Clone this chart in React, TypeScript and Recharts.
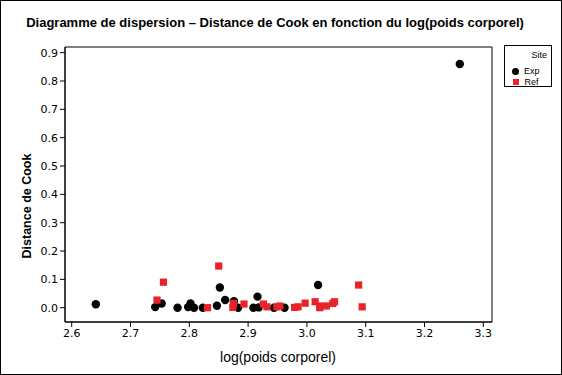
import React from 'react';
import { ScatterChart, Scatter, XAxis, YAxis, ReferenceArea } from 'recharts';

const chartTitle = 'Diagramme de dispersion \u2013 Distance de Cook en fonction du log(poids corporel)';
const xLabel = 'log(poids corporel)';
const yLabel = 'Distance de Cook';
const legendTitle = 'Site';
const seriesNames = ['Exp', 'Ref'];

const expLogWeight = [2.641, 2.742, 2.753, 2.780, 2.798, 2.802, 2.808, 2.823, 2.847, 2.852, 2.861, 2.876, 2.883, 2.909, 2.916, 2.918, 2.944, 2.962, 3.019, 3.260];
const expCook = [0.012, 0.002, 0.015, 0.000, 0.002, 0.015, 0.000, 0.000, 0.007, 0.071, 0.027, 0.023, 0.000, 0.000, 0.039, 0.001, 0.000, 0.000, 0.080, 0.860];

const refLogWeight = [2.745, 2.756, 2.831, 2.850, 2.874, 2.875, 2.893, 2.926, 2.932, 2.949, 2.954, 2.979, 2.985, 2.997, 3.014, 3.022, 3.022, 3.033, 3.044, 3.047, 3.088, 3.094];
const refCook = [0.027, 0.090, 0.000, 0.147, 0.001, 0.015, 0.013, 0.013, 0.003, 0.003, 0.006, 0.001, 0.003, 0.016, 0.021, 0.006, 0.000, 0.006, 0.015, 0.021, 0.080, 0.003];

const xTicks = [2.6, 2.7, 2.8, 2.9, 3.0, 3.1, 3.2, 3.3];
const yTicks = [0, 0.1, 0.2, 0.3, 0.4, 0.5, 0.6, 0.7, 0.8, 0.9];

const RED = '#e8232a';
const BLACK = '#000000';

const expData = expLogWeight.map((x, i) => ({ x, y: expCook[i] }));
const refData = refLogWeight.map((x, i) => ({ x, y: refCook[i] }));

const X_DOMAIN: [number, number] = [2.5886, 3.3148];
const Y_DOMAIN: [number, number] = [-0.0505, 0.92];

const CircleShape = (p: any) => <circle cx={p.cx} cy={p.cy} r={4.2} fill={BLACK} />;
const SquareShape = (p: any) => <rect x={p.cx - 3.6} y={p.cy - 3.6} width={7.2} height={7.2} fill={RED} />;

const tickStyle = { fill: '#000', fontSize: 11, fontFamily: 'DejaVu Sans' };

const LegendBox = () => (
  <div
    style={{
      position: 'absolute',
      left: 504,
      top: 45,
      width: 48,
      height: 42,
      boxSizing: 'border-box',
      border: '1px solid #000',
      background: '#fff',
      fontFamily: 'Liberation Sans, Arial, sans-serif',
      fontSize: 9,
      color: '#000',
    }}
  >
    <div style={{ position: 'absolute', right: 4, top: 4, lineHeight: '10px' }}>{legendTitle}</div>
    <div style={{ position: 'absolute', left: 7, top: 20, lineHeight: '10px', display: 'flex', alignItems: 'center' }}>
      <span style={{ display: 'inline-block', width: 7, height: 7, borderRadius: '50%', background: BLACK, marginRight: 5 }} />
      {seriesNames[0]}
    </div>
    <div style={{ position: 'absolute', left: 7, top: 31, lineHeight: '10px', display: 'flex', alignItems: 'center' }}>
      <span style={{ display: 'inline-block', width: 6, height: 6, background: RED, marginRight: 6, marginLeft: 0.5 }} />
      {seriesNames[1]}
    </div>
  </div>
);

export default function App() {
  return (
    <div
      style={{
        position: 'absolute',
        left: 0,
        top: 0,
        width: 562,
        height: 375,
        background: '#fff',
        fontFamily: 'Liberation Sans, Arial, sans-serif',
      }}
    >
      <ScatterChart width={562} height={375} margin={{ top: 47, right: 70, bottom: 0, left: 0 }}>
        <XAxis
          xAxisId="b"
          type="number"
          dataKey="x"
          domain={X_DOMAIN}
          allowDataOverflow
          ticks={xTicks}
          interval={0}
          tickFormatter={(v: number) => v.toFixed(1)}
          height={53}
          tickSize={5}
          axisLine={{ stroke: '#000' }}
          tickLine={{ stroke: '#000' }}
          tick={tickStyle}
        />
        <YAxis
          yAxisId="l"
          type="number"
          dataKey="y"
          domain={Y_DOMAIN}
          allowDataOverflow
          ticks={yTicks}
          interval={0}
          tickFormatter={(v: number) => v.toFixed(1)}
          width={65}
          tickSize={5}
          axisLine={{ stroke: '#000' }}
          tickLine={{ stroke: '#000' }}
          tick={tickStyle}
        />
        <ReferenceArea
          xAxisId="b"
          yAxisId="l"
          x1={X_DOMAIN[0]}
          x2={X_DOMAIN[1]}
          y1={Y_DOMAIN[0]}
          y2={Y_DOMAIN[1]}
          fill="none"
          fillOpacity={0}
          stroke="#000"
          strokeWidth={1}
          ifOverflow="visible"
        />
        <Scatter
          name={seriesNames[0]}
          data={expData}
          xAxisId="b"
          yAxisId="l"
          fill={BLACK}
          shape={CircleShape}
          isAnimationActive={false}
        />
        <Scatter
          name={seriesNames[1]}
          data={refData}
          xAxisId="b"
          yAxisId="l"
          fill={RED}
          shape={SquareShape}
          isAnimationActive={false}
        />
      </ScatterChart>
      <LegendBox />
      <div
        style={{
          position: 'absolute',
          left: 0,
          top: 15,
          width: 550,
          textAlign: 'center',
          fontWeight: 'bold',
          fontSize: 13,
          lineHeight: '15px',
          whiteSpace: 'nowrap',
        }}
      >
        {chartTitle}
      </div>
      <div
        style={{
          position: 'absolute',
          left: 178,
          top: 349,
          width: 200,
          textAlign: 'center',
          fontSize: 14,
          lineHeight: '16px',
        }}
      >
        {xLabel}
      </div>
      <div
        style={{
          position: 'absolute',
          left: 27,
          top: 206,
          width: 0,
          height: 0,
        }}
      >
        <div
          style={{
            position: 'absolute',
            left: -70,
            top: -8,
            width: 140,
            textAlign: 'center',
            fontWeight: 'bold',
            fontSize: 12.5,
            lineHeight: '16px',
            transform: 'rotate(-90deg)',
            whiteSpace: 'nowrap',
          }}
        >
          {yLabel}
        </div>
      </div>
      <div
        style={{
          position: 'absolute',
          left: 0,
          top: 0,
          width: 562,
          height: 375,
          boxSizing: 'border-box',
          border: '1px solid #000',
          pointerEvents: 'none',
        }}
      />
    </div>
  );
}
